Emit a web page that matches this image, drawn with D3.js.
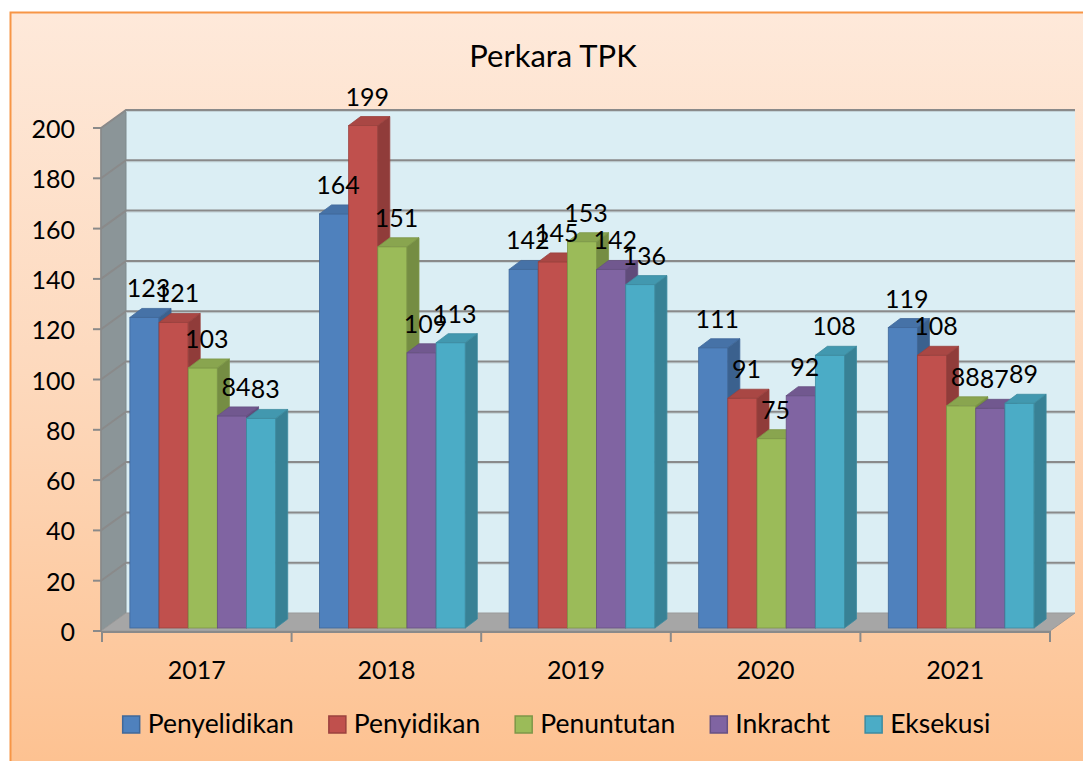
<!DOCTYPE html>
<html>
<head>
<meta charset="utf-8">
<script src="https://cdn.jsdelivr.net/npm/d3@7"></script>
<style>
  html, body { margin: 0; padding: 0; background: #ffffff; }
  svg { display: block; }
  text { font-family: Lato, "Open Sans", sans-serif; fill: #000; }
</style>
</head>
<body>
<svg id="chart" width="1083" height="761"></svg>
<script>
// ---------- data ----------
const title = "Perkara TPK";
const years = ["2017", "2018", "2019", "2020", "2021"];
const seriesNames = ["Penyelidikan", "Penyidikan", "Penuntutan", "Inkracht", "Eksekusi"];
const penyelidikan = [123, 164, 142, 111, 119];
const penyidikan   = [121, 199, 145, 91, 108];
const penuntutan   = [103, 151, 153, 75, 88];
const inkracht     = [84, 109, 142, 92, 87];
const eksekusi     = [83, 113, 136, 108, 89];
const yTicks = [0, 20, 40, 60, 80, 100, 120, 140, 160, 180, 200];
const seriesColors = ["#4f81bd", "#c0504d", "#9bbb59", "#8064a2", "#4bacc6"];

const seriesValues = [penyelidikan, penyidikan, penuntutan, inkracht, eksekusi];

// ---------- geometry ----------
const svg = d3.select("#chart");
const W = 1083, H = 761;

const frontLeft = 101, frontRight = 1050;
const depthX = 25, depthY = -18;
const barShiftX = 6, barShiftY = -3;
const barDX = 12, barDY = -9;

const yFront = d3.scaleLinear().domain([0, 200]).range([631, 128]);
const yBack  = d3.scaleLinear().domain([0, 200]).range([613, 110]);
const yBar   = d3.scaleLinear().domain([0, 200]).range([628, 123]);

const xCat = d3.scaleBand().domain(years).range([frontLeft + 1, frontRight]).paddingInner(0).paddingOuter(0);
const bw = xCat.bandwidth();
const gapFrac = 1.5 / 6.5;
const xSer = d3.scaleBand().domain(seriesNames)
  .range([bw * gapFrac / 2, bw - bw * gapFrac / 2]).paddingInner(0).paddingOuter(0);

const numFont = "25px", legFont = "26.5px", titleFont = "31px";

// ---------- defs ----------
const defs = svg.append("defs");
const bg = defs.append("linearGradient").attr("id", "bgGrad")
  .attr("x1", 0).attr("y1", 0).attr("x2", 0).attr("y2", 1);
bg.append("stop").attr("offset", "0%").attr("stop-color", "#fee9da");
bg.append("stop").attr("offset", "45%").attr("stop-color", "#fdd9bd");
bg.append("stop").attr("offset", "100%").attr("stop-color", "#fdbf8c");

// ---------- chart area ----------
svg.append("rect").attr("x", 0).attr("y", 0).attr("width", W).attr("height", H).attr("fill", "#ffffff");
svg.append("rect").attr("x", 10.5).attr("y", 12.5).attr("width", 1200).attr("height", 800)
  .attr("fill", "url(#bgGrad)").attr("stroke", "#f79646").attr("stroke-width", 2);

// title
svg.append("text").attr("x", 553).attr("y", 67).attr("text-anchor", "middle")
  .style("font-size", titleFont).text(title);

// ---------- walls ----------
const bx0 = frontLeft + depthX, bx1 = frontRight + depthX;
svg.append("rect").attr("x", bx0).attr("y", yBack(200)).attr("width", bx1 - bx0)
  .attr("height", yBack(0) - yBack(200)).attr("fill", "#dbeef4");
svg.append("polygon")
  .attr("points", [[frontLeft, yFront(200)], [bx0, yBack(200)], [bx0, yBack(0)], [frontLeft, yFront(0)]].map(p => p.join(",")).join(" "))
  .attr("fill", "#8b9598").attr("stroke", "#7f8a8d").attr("stroke-width", 1);
svg.append("polygon")
  .attr("points", [[frontLeft, yFront(0)], [frontRight, yFront(0)], [bx1, yBack(0)], [bx0, yBack(0)]].map(p => p.join(",")).join(" "))
  .attr("fill", "#a6a6a6").attr("stroke", "#9a9a9a").attr("stroke-width", 1);

// gridlines
const grid = svg.append("g");
yTicks.filter(v => v > 0).forEach(v => {
  grid.append("line").attr("x1", bx0).attr("x2", bx1).attr("y1", yBack(v) + 1.5).attr("y2", yBack(v) + 1.5)
    .attr("stroke", "#c4d3d8").attr("stroke-width", 1);
  grid.append("path")
    .attr("d", `M${frontLeft},${yFront(v)}L${bx0},${yBack(v)}L${bx1},${yBack(v)}`)
    .attr("fill", "none").attr("stroke", "#8a8a8a").attr("stroke-width", 2);
});

// y axis
const yAx = svg.append("g");
yAx.append("line").attr("x1", frontLeft).attr("x2", frontLeft).attr("y1", yFront(200)).attr("y2", yFront(0))
  .attr("stroke", "#8a8a8a").attr("stroke-width", 1.5);
yTicks.forEach(v => {
  yAx.append("line").attr("x1", frontLeft - 8).attr("x2", frontLeft).attr("y1", yFront(v)).attr("y2", yFront(v))
    .attr("stroke", "#8a8a8a").attr("stroke-width", 2);
  yAx.append("text").attr("x", 75).attr("y", yFront(v) + 10).attr("text-anchor", "end")
    .style("font-size", numFont).text(v);
});

// x axis
const xAx = svg.append("g");
xAx.append("line").attr("x1", frontLeft).attr("x2", frontRight).attr("y1", yFront(0) + 1).attr("y2", yFront(0) + 1)
  .attr("stroke", "#8a8a8a").attr("stroke-width", 2);
years.forEach(yr => {
  const x = xCat(yr);
  xAx.append("line").attr("x1", x).attr("x2", x).attr("y1", yFront(0)).attr("y2", yFront(0) + 11)
    .attr("stroke", "#8a8a8a").attr("stroke-width", 2);
  xAx.append("text").attr("x", x + bw / 2).attr("y", 679).attr("text-anchor", "middle")
    .style("font-size", numFont).text(yr);
});
xAx.append("line").attr("x1", frontRight).attr("x2", frontRight).attr("y1", yFront(0)).attr("y2", yFront(0) + 11)
  .attr("stroke", "#8a8a8a").attr("stroke-width", 2);

// ---------- bars ----------
const barsG = svg.append("g");
const labels = [];
years.forEach((yr, ci) => {
  seriesNames.forEach((s, si) => {
    const v = seriesValues[si][ci];
    const c = d3.color(seriesColors[si]);
    const x0 = xCat(yr) + xSer(s) + barShiftX;
    const x1 = x0 + xSer.bandwidth();
    const yT = yBar(v), yB = yBar(0);
    const edge = c.darker(0.6).formatHex();
    barsG.append("rect").attr("x", x0).attr("y", yT).attr("width", x1 - x0).attr("height", yB - yT)
      .attr("fill", c.formatHex()).attr("stroke", edge).attr("stroke-width", 0.8);
    barsG.append("polygon")
      .attr("points", [[x0, yT], [x1, yT], [x1 + barDX, yT + barDY], [x0 + barDX, yT + barDY]].map(p => p.join(",")).join(" "))
      .attr("fill", c.darker(0.35).formatHex()).attr("stroke", edge).attr("stroke-width", 0.8);
    barsG.append("polygon")
      .attr("points", [[x1, yT], [x1 + barDX, yT + barDY], [x1 + barDX, yB + barDY], [x1, yB]].map(p => p.join(",")).join(" "))
      .attr("fill", c.darker(0.8).formatHex()).attr("stroke", edge).attr("stroke-width", 0.8);
    labels.push({ x: (x0 + x1) / 2 + 4, y: yT - 20, v });
  });
});

// data labels
const labG = svg.append("g");
labels.forEach(d => {
  labG.append("text").attr("x", d.x).attr("y", d.y).attr("text-anchor", "middle")
    .style("font-size", numFont).text(d.v);
});

// ---------- legend ----------
const legG = svg.append("g");
const sq = 17, sqGap = 8, itemGap = 35;
const items = seriesNames.map((s, i) => {
  const g = legG.append("g");
  g.append("rect").attr("x", 0).attr("y", -17).attr("width", sq).attr("height", sq)
    .attr("fill", seriesColors[i]).attr("stroke", d3.color(seriesColors[i]).darker(0.6).formatHex()).attr("stroke-width", 1.5);
  const t = g.append("text").attr("x", sq + sqGap).attr("y", 0).style("font-size", legFont).text(s);
  return { g, w: sq + sqGap + t.node().getComputedTextLength() };
});
const totalW = d3.sum(items, d => d.w) + itemGap * (items.length - 1);
let lx = 556.5 - totalW / 2;
items.forEach(it => {
  it.g.attr("transform", `translate(${lx},733)`);
  lx += it.w + itemGap;
});
</script>
</body>
</html>
